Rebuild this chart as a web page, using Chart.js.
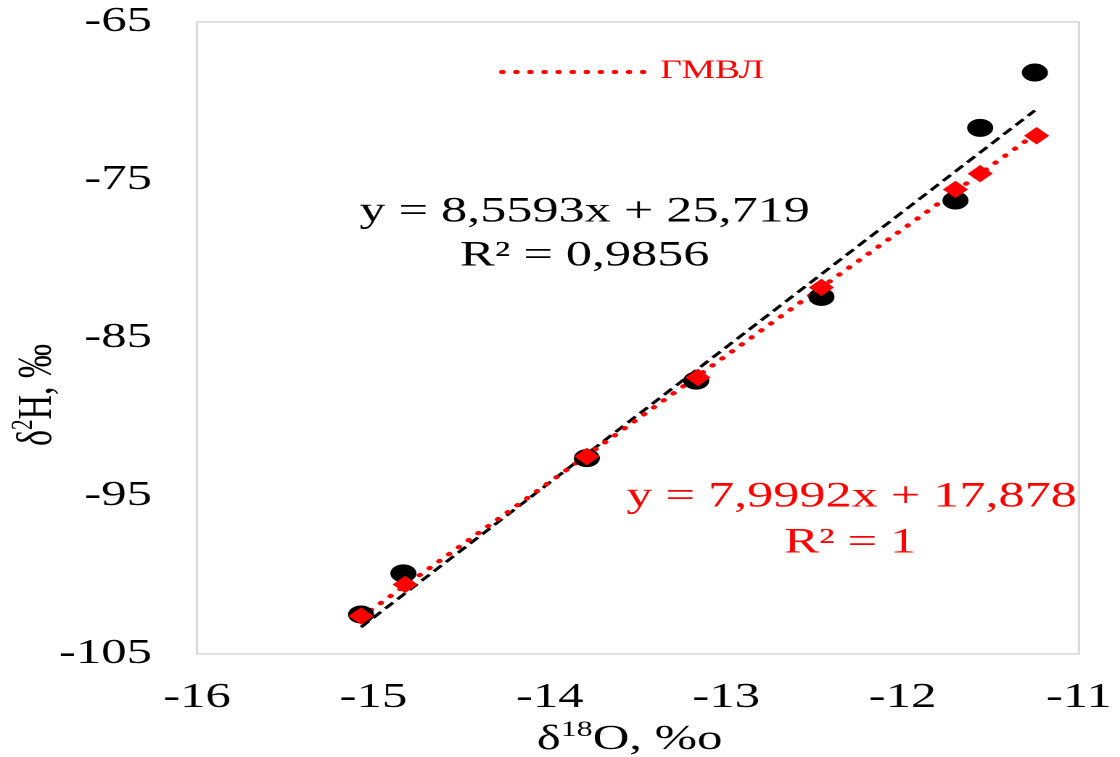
<!DOCTYPE html>
<html><head><meta charset="utf-8">
<script src="https://cdn.jsdelivr.net/npm/chart.js@4"></script>
<style>
html,body{margin:0;padding:0;background:#fff;overflow:hidden;}
#wrap{position:absolute;left:0;top:0;width:772px;height:757px;transform:scaleX(1.45078);transform-origin:0 0;}
</style></head><body>
<div id="wrap"><canvas id="c"></canvas></div>
<script>
// Measured samples
const oxygen18  = [-15.07, -14.83, -13.79, -13.17, -12.46, -11.70, -11.56, -11.25];
const deuterium = [-102.5, -99.9, -92.6, -87.7, -82.4, -76.3, -71.7, -68.2];
// Global meteoric water line (ГМВЛ) points
const gmwlOxygen18  = [-15.07, -14.82, -13.79, -13.16, -12.46, -11.70, -11.56, -11.24];
const gmwlDeuterium = [-102.6, -100.6, -92.5, -87.5, -81.8, -75.6, -74.6, -72.2];
// Trendline end points as drawn
const trendX = [-15.07, -11.25];
const trendY = [-103.3, -70.6];
const gmwlTrendX = [-15.07, -11.24];
const gmwlTrendY = [-102.67, -72.04];
// Axis ticks
const xTicks = [-16, -15, -14, -13, -12, -11];
const yTicks = [-105, -95, -85, -75, -65];
// Texts
const legendLabel = 'ГМВЛ';
const eqBlack = ['y = 8,5593x + 25,719', 'R² = 0,9856'];
const eqRed = ['y = 7,9992x + 17,878', 'R² = 1'];

const SERIF = '"Liberation Serif", "Times New Roman", serif';
const pts = (xs, ys) => xs.map((x, i) => ({x: x, y: ys[i]}));

function drawRich(ctx, parts, cx, cy, size) {
  const subSize = Math.round(size * 0.62);
  let total = 0;
  parts.forEach(p => {
    ctx.font = (p.sup ? subSize : size) + 'px ' + SERIF;
    p.w = ctx.measureText(p.t).width;
    total += p.w;
  });
  let x = cx - total / 2;
  ctx.textBaseline = 'middle';
  ctx.textAlign = 'left';
  parts.forEach(p => {
    ctx.font = (p.sup ? subSize : size) + 'px ' + SERIF;
    ctx.fillText(p.t, x, p.sup ? cy - size * 0.28 : cy);
    x += p.w;
  });
}

const decorPlugin = {
  id: 'decor',
  beforeDatasetsDraw(chart) {
    const {ctx, chartArea: a} = chart;
    ctx.save();
    ctx.strokeStyle = '#d9d9d9';
    ctx.lineWidth = 1.6;
    ctx.strokeRect(a.left, a.top, a.right - a.left, a.bottom - a.top);
    ctx.restore();
  },
  afterDraw(chart) {
    const ctx = chart.ctx;
    ctx.save();
    // Legend (ГМВЛ)
    ctx.strokeStyle = '#ff0000';
    ctx.lineWidth = 4;
    ctx.lineCap = 'round';
    ctx.setLineDash([0.5, 9.2]);
    ctx.beginPath();
    ctx.moveTo(346, 72);
    ctx.lineTo(449, 72);
    ctx.stroke();
    ctx.setLineDash([]);
    ctx.fillStyle = '#ff0000';
    ctx.font = '26px ' + SERIF;
    ctx.textAlign = 'left';
    ctx.textBaseline = 'middle';
    ctx.fillText(legendLabel, 455, 71);
    // Equations
    ctx.textAlign = 'center';
    ctx.font = '36px ' + SERIF;
    ctx.fillStyle = '#000000';
    ctx.fillText(eqBlack[0], 403, 212);
    ctx.fillText(eqBlack[1], 403, 256);
    ctx.fillStyle = '#ff0000';
    ctx.fillText(eqRed[0], 587, 497);
    ctx.fillText(eqRed[1], 586, 543);
    // Axis titles
    ctx.fillStyle = '#000000';
    drawRich(ctx, [{t: 'δ'}, {t: '18', sup: true}, {t: 'O, %o'}], 434, 740, 35);
    ctx.save();
    ctx.translate(26, 395);
    ctx.rotate(-Math.PI / 2);
    drawRich(ctx, [{t: 'δ'}, {t: '2', sup: true}, {t: 'H, ‰'}], 0, 0, 34);
    ctx.restore();
    ctx.restore();
  }
};

new Chart(document.getElementById('c'), {
  type: 'scatter',
  data: {
    datasets: [
      {
        label: 'trend',
        type: 'line',
        data: pts(trendX, trendY),
        borderColor: '#000000',
        borderWidth: 2.6,
        borderDash: [8, 4.5],
        pointRadius: 0,
        fill: false,
        order: 4
      },
      {
        label: legendLabel + ' trend',
        type: 'line',
        data: pts(gmwlTrendX, gmwlTrendY),
        borderColor: '#ff0000',
        borderWidth: 4,
        borderCapStyle: 'round',
        borderDash: [0.5, 9.2],
        pointRadius: 0,
        fill: false,
        order: 3
      },
      {
        label: 'δ18O / δ2H',
        data: pts(oxygen18, deuterium),
        backgroundColor: '#000000',
        borderColor: '#000000',
        borderWidth: 1,
        pointStyle: 'circle',
        pointRadius: 8.5,
        pointHoverRadius: 8.5,
        order: 2
      },
      {
        label: legendLabel,
        data: pts(gmwlOxygen18, gmwlDeuterium),
        backgroundColor: '#ff0000',
        borderColor: '#ff0000',
        borderWidth: 1,
        pointStyle: 'rectRot',
        pointRadius: 8,
        pointHoverRadius: 8,
        order: 1
      }
    ]
  },
  options: {
    responsive: true,
    maintainAspectRatio: false,
    devicePixelRatio: 2,
    animation: false,
    events: [],
    layout: {padding: {left: 0, top: 22, right: 28.3, bottom: 0}},
    plugins: {legend: {display: false}, tooltip: {enabled: false}},
    scales: {
      x: {
        type: 'linear',
        min: -16, max: -11,
        afterBuildTicks: s => { s.ticks = xTicks.map(v => ({value: v})); },
        afterFit: s => { s.height = 103; s.paddingLeft = 0; s.paddingRight = 0; },
        grid: {display: false, drawTicks: false},
        border: {display: false},
        ticks: {
          padding: 23,
          color: '#000000',
          font: {family: SERIF, size: 35},
          maxRotation: 0,
          callback: v => String(v)
        }
      },
      y: {
        type: 'linear',
        min: -105, max: -65,
        afterBuildTicks: s => { s.ticks = yTicks.map(v => ({value: v})); },
        afterFit: s => { s.width = 135.8; s.paddingTop = 0; s.paddingBottom = 0; },
        grid: {display: false, drawTicks: false},
        border: {display: false},
        ticks: {
          padding: 31,
          color: '#000000',
          font: {family: SERIF, size: 35},
          callback: v => String(v)
        }
      }
    }
  },
  plugins: [decorPlugin]
});
</script>
</body></html>
